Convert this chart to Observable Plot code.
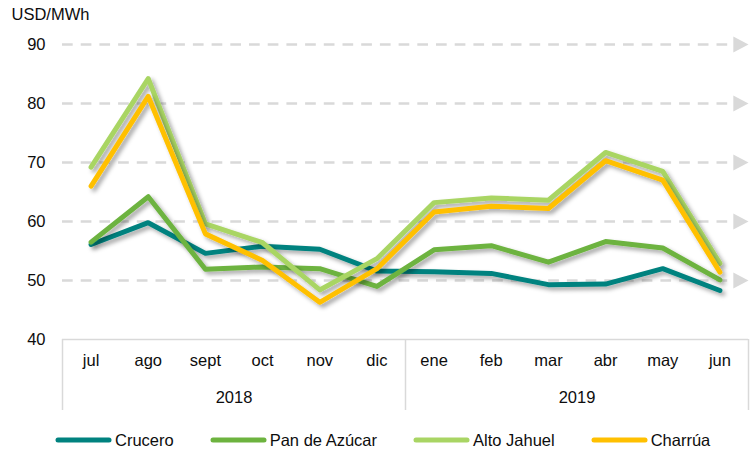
<!DOCTYPE html>
<html>
<head>
<meta charset="utf-8">
<script src="https://cdn.jsdelivr.net/npm/d3@7"></script>
<script src="https://cdn.jsdelivr.net/npm/@observablehq/plot@0.6"></script>
<style>
  html, body { margin: 0; padding: 0; background: #fff; }
  #chart { width: 753px; height: 450px; overflow: hidden; font-family: "Liberation Sans", Arial, sans-serif; }
  .legend { display: flex; align-items: center; height: 22px; padding-top: 9px; padding-left: 55px; font-size: 16.5px; color: #0d0d0d; }
  .legend .item { display: flex; align-items: center; margin-right: 36px; }
  .legend svg { margin-right: 3px; }
</style>
</head>
<body>
<div id="chart"></div>
<script>
const months = ["jul","ago","sept","oct","nov","dic","ene","feb","mar","abr","may","jun"];
const monthYear = ["2018","2018","2018","2018","2018","2018","2019","2019","2019","2019","2019","2019"];
const seriesNames = ["Crucero","Pan de Azúcar","Alto Jahuel","Charrúa"];
const seriesColors = ["#00827f","#6db33f","#a9d564","#ffc000"];
const crucero     = [56.1, 59.8, 54.6, 55.8, 55.3, 51.6, 51.5, 51.2, 49.3, 49.4, 52.0, 48.3];
const panDeAzucar = [56.5, 64.2, 51.9, 52.3, 52.0, 49.0, 55.2, 55.9, 53.1, 56.6, 55.5, 50.1];
const altoJahuel  = [69.2, 84.2, 59.6, 56.4, 48.4, 53.7, 63.2, 64.0, 63.6, 71.7, 68.5, 52.9];
const charrua     = [66.0, 81.2, 57.9, 53.4, 46.3, 52.0, 61.6, 62.6, 62.2, 70.3, 67.0, 51.4];
const yTicks = [40, 50, 60, 70, 80, 90];
const yUnit = "USD/MWh";

const seriesValues = [crucero, panDeAzucar, altoJahuel, charrua];
const data = seriesNames.flatMap((name, s) =>
  seriesValues[s].map((v, i) => ({series: name, i, month: months[i], value: v})));

// year groups derived from months
const years = [...new Set(monthYear)];
const yearGroups = years.map(y => {
  const idx = monthYear.map((m, i) => m === y ? i : -1).filter(i => i >= 0);
  return {year: y, center: (idx[0] + idx[idx.length - 1]) / 2, start: idx[0] - 0.5, end: idx[idx.length - 1] + 0.5};
});
const boundaries = [...new Set(yearGroups.flatMap(g => [g.start, g.end]))];
const xDomain = [-0.5, months.length - 0.5];
const yMin = yTicks[0];

// right-pointing triangle symbol
const arrowSymbol = {
  draw(context, size) {
    const r = Math.sqrt(size / Math.PI);
    context.moveTo(r, 0);
    context.lineTo(-r * 0.9, -r);
    context.lineTo(-r * 0.9, r);
    context.closePath();
  }
};

const W = 753, H = 420, mL = 62, mR = 5, mT = 44, mB = 81;
const FS = 16.5;

const chart = Plot.plot({
  width: W, height: H,
  marginLeft: mL, marginRight: mR, marginTop: mT, marginBottom: mB,
  style: {fontFamily: "'Liberation Sans', Arial, sans-serif", fontSize: FS + "px", color: "#0d0d0d", background: "white", overflow: "visible"},
  x: {type: "linear", domain: xDomain},
  y: {domain: [yTicks[0], yTicks[yTicks.length - 1]]},
  color: {domain: seriesNames, range: seriesColors},
  marks: [
    Plot.ruleY(yTicks.slice(1), {x1: xDomain[0], x2: xDomain[1], insetRight: 15, stroke: "#d9d9d9", strokeWidth: 2.5, strokeDasharray: "10.7,8"}),
    Plot.dot(yTicks.slice(1), {x: () => xDomain[1], y: d => d, symbol: arrowSymbol, r: 8, fill: "#d9d9d9", stroke: "none", dx: -8}),
    Plot.ruleY([yMin], {x1: xDomain[0], x2: xDomain[1], stroke: "#d9d9d9", strokeWidth: 1.5}),
    Plot.ruleX(boundaries, {insetTop: H - mT - mB, insetBottom: -71, stroke: "#d9d9d9", strokeWidth: 1.5}),
    Plot.axisY({ticks: yTicks, tickSize: 0, tickPadding: 17, label: null, fontSize: FS}),
    Plot.axisX({ticks: d3.range(months.length), tickFormat: i => months[i], tickSize: 0, tickPadding: 15, label: null, fontSize: FS}),
    Plot.text(yearGroups, {x: "center", y: () => yMin, text: "year", dy: 52, lineAnchor: "top", fontSize: FS}),
    Plot.line(data, {x: "i", y: "value", z: "series", stroke: "series", strokeWidth: 5, strokeLinejoin: "round", strokeLinecap: "round"}),
    Plot.text([yUnit], {frameAnchor: "top-left", textAnchor: "start", lineAnchor: "top", dx: -51, dy: -36, fontSize: FS})
  ]
});

// drop shadow on lines
const svg = d3.select(chart);
const defs = svg.insert("defs", ":first-child");
const f = defs.append("filter").attr("id", "shadow").attr("x", "-10%").attr("y", "-10%").attr("width", "130%").attr("height", "130%");
f.append("feDropShadow").attr("dx", 3).attr("dy", 3).attr("stdDeviation", 2).attr("flood-color", "#000").attr("flood-opacity", 0.35);
svg.selectAll('g[aria-label="line"] path').attr("filter", "url(#shadow)");

document.getElementById("chart").appendChild(chart);

// legend
const legend = d3.select("#chart").append("div").attr("class", "legend");
seriesNames.forEach((name, k) => {
  const item = legend.append("div").attr("class", "item");
  const s = item.append("svg").attr("width", 57).attr("height", 8);
  s.append("line").attr("x1", 3).attr("x2", 54).attr("y1", 4).attr("y2", 4)
    .attr("stroke", seriesColors[k]).attr("stroke-width", 5).attr("stroke-linecap", "round");
  item.append("span").text(name);
});
</script>
</body>
</html>
